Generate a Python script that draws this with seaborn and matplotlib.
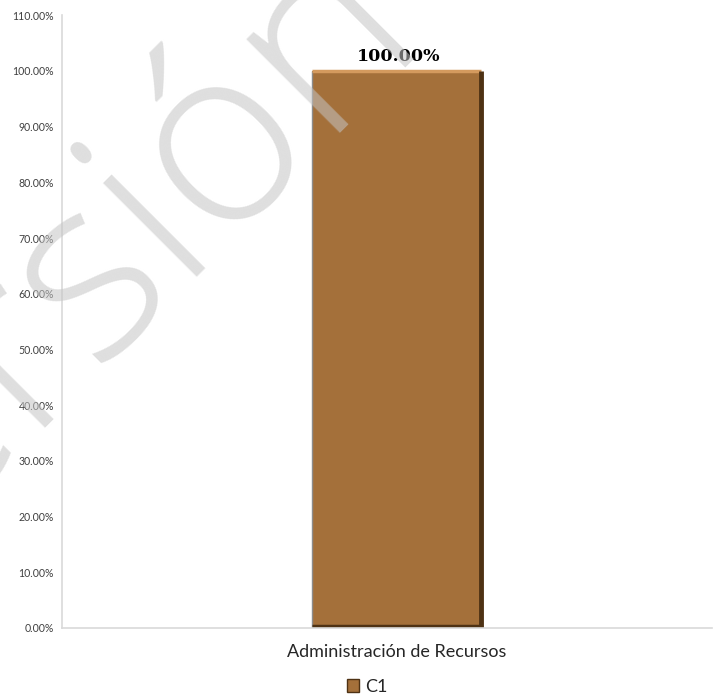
import matplotlib

matplotlib.use("Agg")
import matplotlib.pyplot as plt
import pandas as pd
import seaborn as sns
from matplotlib.patches import Patch
from matplotlib.ticker import FuncFormatter

categorias = ["Administración de Recursos"]
valores = [1.00]
serie = "C1"
y_ticks = [i / 10 for i in range(12)]

color_barra = "#A4703A"
color_sombra = "#4E3214"
color_brillo = "#D49A5E"
color_eje = "#D9D9D9"

sns.set_theme(style="white")
plt.rcParams["font.family"] = ["Lato", "DejaVu Sans"]

df = pd.DataFrame({"categoria": categorias, "valor": valores})

fig = plt.figure(figsize=(7.15, 6.96), dpi=100)
ax = fig.add_axes([0.087, 0.098, 0.909, 0.880])

sns.barplot(
    data=df,
    x="categoria",
    y="valor",
    color=color_barra,
    width=0.26,
    linewidth=0,
    saturation=1,
    ax=ax,
)
ax.set_xlim(-0.514, 0.486)

# efecto de bisel a partir de la geometria de la barra
for barra in ax.patches:
    x0 = barra.get_x()
    x1 = x0 + barra.get_width()
    h = barra.get_height()
    ax.plot([x0, x0], [0, h], color="#8C8C8C", lw=1.0, solid_capstyle="butt")
    ax.plot([x0, x1], [h, h], color=color_brillo, lw=2.5, solid_capstyle="butt")
    ax.plot([x1, x1], [0, h], color=color_sombra, lw=3.5, solid_capstyle="butt")
    ax.plot([x0, x1], [0.004, 0.004], color=color_sombra, lw=2.5, solid_capstyle="butt")

ax.set_ylim(0, 1.1)
ax.set_yticks(y_ticks)
ax.yaxis.set_major_formatter(FuncFormatter(lambda v, _: f"{v * 100:.2f}%"))
ax.tick_params(axis="y", labelsize=7.6, length=0, pad=6, colors="#404040")
ax.tick_params(axis="x", labelsize=13, length=0, pad=12, colors="#262626")
ax.set_xlabel("")
ax.set_ylabel("")

for lado in ["top", "right"]:
    ax.spines[lado].set_visible(False)
for lado in ["left", "bottom"]:
    ax.spines[lado].set_color(color_eje)
    ax.spines[lado].set_linewidth(1.2)

for barra, v in zip(ax.patches, valores):
    ax.annotate(
        f"{v * 100:.2f}%",
        (barra.get_x() + barra.get_width() / 2, barra.get_height()),
        xytext=(2, 4),
        textcoords="offset points",
        ha="center",
        va="bottom",
        fontsize=12.5,
        fontweight="bold",
        family=["DejaVu Serif"],
        color="black",
    )

fig.legend(
    handles=[Patch(facecolor=color_barra, edgecolor=color_sombra, linewidth=1)],
    labels=[serie],
    loc="lower center",
    bbox_to_anchor=(0.513, -0.022),
    frameon=False,
    fontsize=13,
    handlelength=0.7,
    handleheight=0.7,
    handletextpad=0.3,
)

# marca de agua
fig.text(
    0.12,
    0.575,
    "Versión",
    fontsize=180,
    fontweight="light",
    family=["Open Sans", "DejaVu Sans"],
    rotation=45,
    ha="center",
    va="center",
    color="#C4C4C4",
    alpha=0.55,
    zorder=10,
)

fig.savefig("out.png", dpi=100)
